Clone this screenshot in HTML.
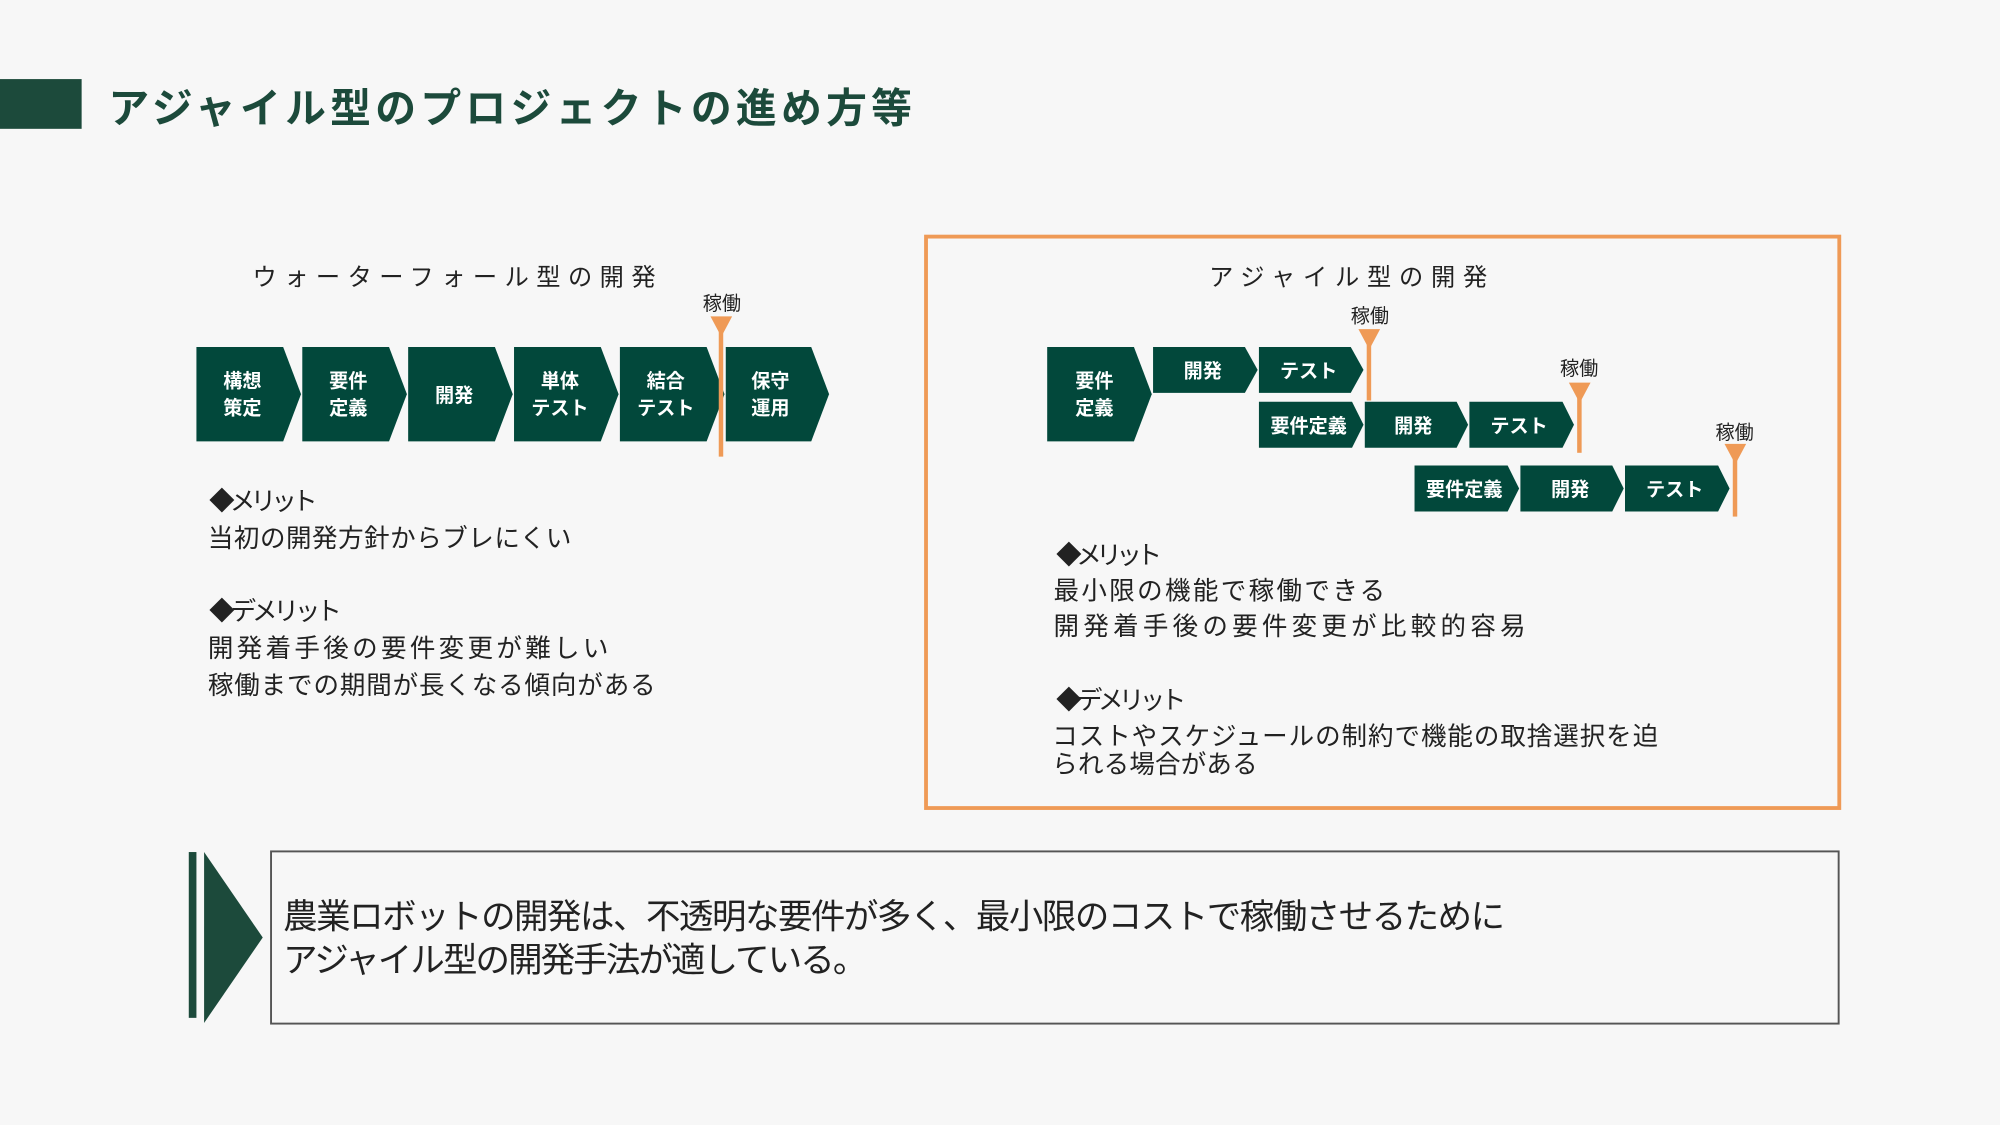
<!DOCTYPE html>
<html><head><meta charset="utf-8"><style>
html,body{margin:0;padding:0;background:#f7f7f7;}
svg{display:block;font-family:"Liberation Sans","Noto Sans CJK JP",sans-serif;}
</style></head><body>
<svg width="2000" height="1125" viewBox="0 0 1568 882" xmlns="http://www.w3.org/2000/svg">
<rect width="1568" height="882" fill="#f7f7f7"/>
<rect x="0" y="62" width="64" height="39" fill="#1c4a3b"/>
<text x="85" y="96" font-size="32" font-weight="bold" fill="#1c4a3b" textLength="630" lengthAdjust="spacing">アジャイル型のプロジェクトの進め方等</text>

<text x="198" y="224" font-size="19" fill="#222" textLength="316" lengthAdjust="spacing">ウォーターフォール型の開発</text>
<g fill="#02483b">
<polygon points="154,272 222,272 236,309 222,346 154,346"/>
<polygon points="237,272 305,272 319,309 305,346 237,346"/>
<polygon points="320,272 388,272 402,309 388,346 320,346"/>
<polygon points="403,272 471,272 485,309 471,346 403,346"/>
<polygon points="486,272 554,272 568,309 554,346 486,346"/>
<polygon points="569,272 636,272 650,309 636,346 569,346"/>
</g>
<g fill="#fff" font-size="15" font-weight="bold" text-anchor="middle">
<text x="190" y="304">構想</text><text x="190" y="325">策定</text>
<text x="273" y="304">要件</text><text x="273" y="325">定義</text>
<text x="356" y="315">開発</text>
<text x="439" y="304">単体</text><text x="439" y="325">テスト</text>
<text x="522" y="304">結合</text><text x="522" y="325">テスト</text>
<text x="604" y="304">保守</text><text x="604" y="325">運用</text>
</g>
<rect x="563.5" y="252" width="3.5" height="106" fill="#ef9a56"/>
<polygon points="557,248 574,248 565.5,264" fill="#ef9a56"/>
<text x="566" y="243" font-size="15" fill="#222" text-anchor="middle">稼働</text>

<g font-size="20" fill="#222" lengthAdjust="spacing">
<text x="164" y="400" textLength="85">◆メリット</text>
<text x="163" y="429" textLength="285">当初の開発方針からブレにくい</text>
<text x="164" y="486" textLength="104">◆デメリット</text>
<text x="163" y="515" textLength="314">開発着手後の要件変更が難しい</text>
<text x="163" y="544" textLength="351">稼働までの期間が長くなる傾向がある</text>
</g>

<rect x="726" y="185.5" width="716" height="448" fill="none" stroke="#ef9a56" stroke-width="3"/>
<text x="948" y="224" font-size="19" fill="#222" textLength="218" lengthAdjust="spacing">アジャイル型の開発</text>
<g fill="#02483b">
<polygon points="821,272 889,272 903,309 889,346 821,346"/>
<polygon points="904,272 976,272 986,290 976,308 904,308"/>
<polygon points="987,272 1059,272 1069,290 1059,308 987,308"/>
<polygon points="987,315 1060,315 1069,333 1060,351 987,351"/>
<polygon points="1070,315 1142,315 1151,333 1142,351 1070,351"/>
<polygon points="1152,315 1225,315 1234,333 1225,351 1152,351"/>
<polygon points="1109,365 1182,365 1191,383 1182,401 1109,401"/>
<polygon points="1192,365 1264,365 1273,383 1264,401 1192,401"/>
<polygon points="1274,365 1347,365 1356,383 1347,401 1274,401"/>
</g>
<g fill="#fff" font-size="15" font-weight="bold" text-anchor="middle">
<text x="858" y="304">要件</text><text x="858" y="325">定義</text>
<text x="943" y="296">開発</text>
<text x="1026" y="296">テスト</text>
<text x="1026" y="339">要件定義</text>
<text x="1108" y="339">開発</text>
<text x="1191" y="339">テスト</text>
<text x="1148" y="389">要件定義</text>
<text x="1231" y="389">開発</text>
<text x="1313" y="389">テスト</text>
</g>
<g fill="#ef9a56">
<rect x="1071.5" y="262" width="3.5" height="52"/><polygon points="1065,258 1082,258 1073.5,274"/>
<rect x="1236.5" y="304" width="3.5" height="51"/><polygon points="1230,300 1247,300 1238.5,316"/>
<rect x="1358.5" y="352" width="3.5" height="53"/><polygon points="1352,348 1369,348 1360.5,364"/>
</g>
<g font-size="15" fill="#222" text-anchor="middle">
<text x="1074" y="253">稼働</text>
<text x="1238" y="294">稼働</text>
<text x="1360" y="344">稼働</text>
</g>
<g font-size="20" fill="#222" lengthAdjust="spacing">
<text x="828" y="442" textLength="83">◆メリット</text>
<text x="826" y="470" textLength="260">最小限の機能で稼働できる</text>
<text x="826" y="498" textLength="370">開発着手後の要件変更が比較的容易</text>
<text x="828" y="556" textLength="102">◆デメリット</text>
<text x="825" y="584" textLength="475">コストやスケジュールの制約で機能の取捨選択を迫</text>
<text x="825" y="606" textLength="161">られる場合がある</text>
</g>

<rect x="148" y="668" width="6" height="130" fill="#1c4a3b"/>
<polygon points="160,668 206,735 160,802" fill="#1c4a3b"/>
<rect x="212.5" y="667.5" width="1229" height="135" fill="none" stroke="#555" stroke-width="1.5"/>
<g font-size="27" fill="#222" lengthAdjust="spacing">
<text x="222" y="728" textLength="958">農業ロボットの開発は、不透明な要件が多く、最小限のコストで稼働させるために</text>
<text x="222" y="762" textLength="458">アジャイル型の開発手法が適している。</text>
</g>
</svg>
</body></html>
